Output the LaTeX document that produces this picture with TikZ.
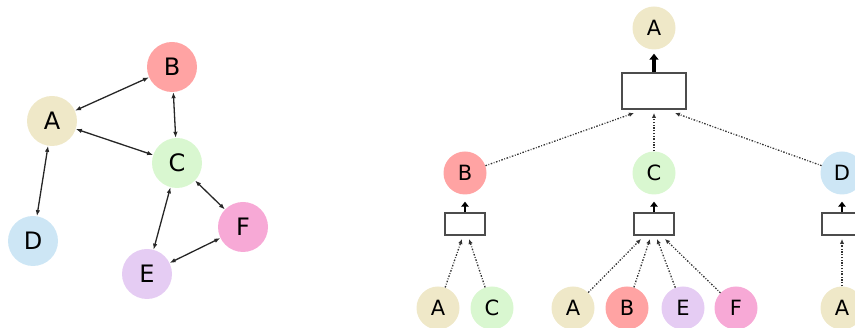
\documentclass[tikz,border=0pt]{standalone}
\usepackage{fontspec}
\setmainfont{DejaVu Sans}
\usetikzlibrary{arrows.meta}
\definecolor{cA}{HTML}{EFE8C8}
\definecolor{cB}{HTML}{FFA3A3}
\definecolor{cC}{HTML}{D9F7D0}
\definecolor{cD}{HTML}{CDE6F5}
\definecolor{cE}{HTML}{E5CCF3}
\definecolor{cF}{HTML}{F7A9D6}
\tikzset{
  gnode/.style={circle,minimum size=50pt,inner sep=0pt,font=\fontsize{24}{24}\selectfont},
  tnode/.style={circle,minimum size=43pt,inner sep=0pt,font=\fontsize{21}{21}\selectfont},
  bigbox/.style={draw=black!70,line width=1.6pt,minimum width=64pt,minimum height=36pt,inner sep=0pt,fill=white},
  smallbox/.style={draw=black!70,line width=1.6pt,minimum width=40pt,minimum height=22pt,inner sep=0pt,fill=white},
  biedge/.style={{Latex[length=6pt,width=4.5pt]}-{Latex[length=6pt,width=4.5pt]},line width=1.3pt,black!85},
  msg/.style={-{Latex[length=5pt,width=4.5pt]},line width=1.3pt,black!80,dash pattern=on 1.6pt off 1.6pt on 0.8pt off 1.6pt},
  upthick/.style={-{Triangle[length=6pt,width=9pt]},line width=3.2pt,black,shorten >=4pt},
  upsmall/.style={-{Triangle[length=5pt,width=7.5pt]},line width=2.6pt,black,shorten >=7pt},
}
\begin{document}
\begin{tikzpicture}[x=1pt,y=-1pt]
\useasboundingbox (0,0) rectangle (855,328);
\clip (0,0) rectangle (855,328);
% left graph
\node[gnode,fill=cB] (B) at (172,67) {B};
\node[gnode,fill=cA] (A) at (52,121) {A};
\node[gnode,fill=cC] (C) at (177,163) {C};
\node[gnode,fill=cD] (D) at (33,241) {D};
\node[gnode,fill=cE] (E) at (147,274) {E};
\node[gnode,fill=cF] (F) at (243,227) {F};
\draw[biedge] (A) -- (B);
\draw[biedge] (A) -- (C);
\draw[biedge] (A) -- (D);
\draw[biedge] (B) -- (C);
\draw[biedge] (C) -- (E);
\draw[biedge] (C) -- (F);
\draw[biedge] (E) -- (F);
% right tree
\node[tnode,fill=cA] (tA) at (654,28) {A};
\node[bigbox] (box0) at (654,91) {};
\node[tnode,fill=cB] (tB) at (465,173) {B};
\node[tnode,fill=cC] (tC) at (654,173) {C};
\node[tnode,fill=cD] (tD) at (842,173) {D};
\node[smallbox] (boxB) at (465,224) {};
\node[smallbox] (boxC) at (654,224) {};
\node[smallbox] (boxD) at (842,224) {};
\node[tnode,fill=cA] (bA1) at (438,308) {A};
\node[tnode,fill=cC] (bC1) at (492,308) {C};
\node[tnode,fill=cA] (bA2) at (573,308) {A};
\node[tnode,fill=cB] (bB2) at (627,308) {B};
\node[tnode,fill=cE] (bE2) at (683,308) {E};
\node[tnode,fill=cF] (bF2) at (736,308) {F};
\node[tnode,fill=cA] (bA3) at (842,308) {A};
% targets
\coordinate (t0a) at (634,113);
\coordinate (t0b) at (654,113);
\coordinate (t0c) at (675,113);
\coordinate (tBa) at (462,239);
\coordinate (tBb) at (469,239);
\coordinate (tCa) at (641,239);
\coordinate (tCb) at (650,239);
\coordinate (tCc) at (657,239);
\coordinate (tCd) at (665,239);
\coordinate (tDa) at (842,239);
\draw[msg] (tB) -- (t0a);
\draw[msg] (tC) -- (t0b);
\draw[msg] (tD) -- (t0c);
\draw[msg] (bA1) -- (tBa);
\draw[msg] (bC1) -- (tBb);
\draw[msg] (bA2) -- (tCa);
\draw[msg] (bB2) -- (tCb);
\draw[msg] (bE2) -- (tCc);
\draw[msg] (bF2) -- (tCd);
\draw[msg] (bA3) -- (tDa);
\draw[upthick] (box0.north) -- (tA);
\draw[upsmall] (boxB.north) -- (tB);
\draw[upsmall] (boxC.north) -- (tC);
\draw[upsmall] (boxD.north) -- (tD);
\end{tikzpicture}
\end{document}
